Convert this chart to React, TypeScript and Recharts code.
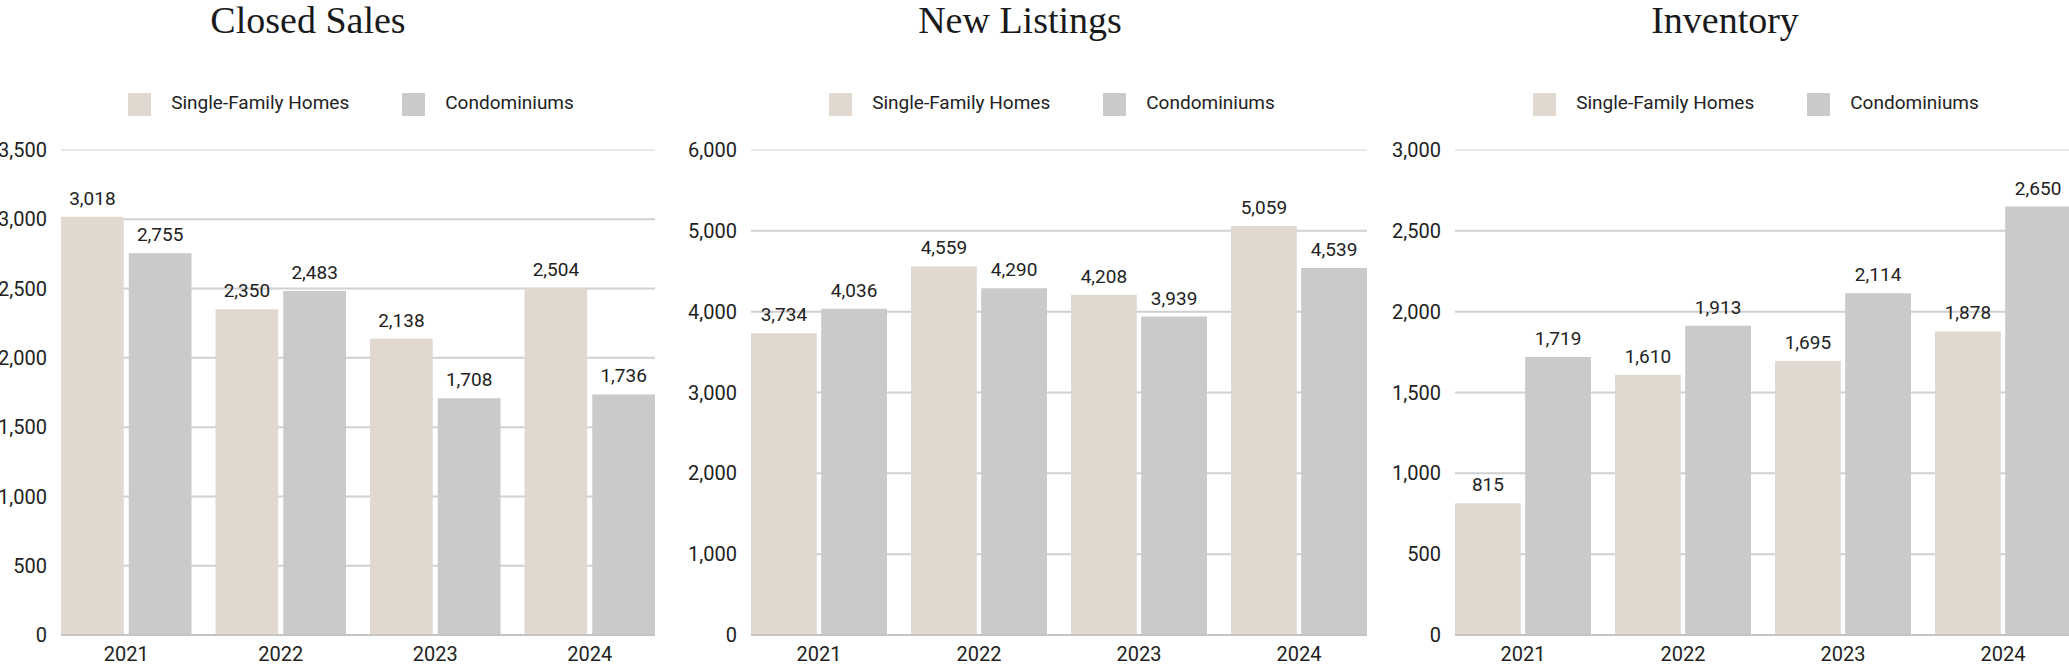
import React from 'react';
import { BarChart, Bar, XAxis, YAxis, CartesianGrid, LabelList, Legend, ReferenceLine } from 'recharts';

const years = ['2021', '2022', '2023', '2024'];
const seriesNames = ['Single-Family Homes', 'Condominiums'];
const titles = ['Closed Sales', 'New Listings', 'Inventory'];

const closedSalesSFH = [3018, 2350, 2138, 2504];
const closedSalesCondo = [2755, 2483, 1708, 1736];
const newListingsSFH = [3734, 4559, 4208, 5059];
const newListingsCondo = [4036, 4290, 3939, 4539];
const inventorySFH = [815, 1610, 1695, 1878];
const inventoryCondo = [1719, 1913, 2114, 2650];

const closedSalesTicks = [0, 500, 1000, 1500, 2000, 2500, 3000, 3500];
const newListingsTicks = [0, 1000, 2000, 3000, 4000, 5000, 6000];
const inventoryTicks = [0, 500, 1000, 1500, 2000, 2500, 3000];

const SFH_COLOR = '#e1d9d0';
const CONDO_COLOR = '#cacaca';
const TEXT = '#222222';
const FONT = 'Roboto, "Liberation Sans", sans-serif';
const YAXIS_W = 90;
const H = 665;

const fmt = (v: any) => Number(v).toLocaleString('en-US');

const build = (a: number[], b: number[]) => years.map((y, i) => ({ year: y, sfh: a[i], condo: b[i] }));

const panels = [
  { title: titles[0], data: build(closedSalesSFH, closedSalesCondo), ticks: closedSalesTicks, plotLeft: 61, plotWidth: 594, barSize: 62.75, barGap: 5, titleCenter: 308 },
  { title: titles[1], data: build(newListingsSFH, newListingsCondo), ticks: newListingsTicks, plotLeft: 751, plotWidth: 616, barSize: 65.8, barGap: 4.4, titleCenter: 1020 },
  { title: titles[2], data: build(inventorySFH, inventoryCondo), ticks: inventoryTicks, plotLeft: 1455, plotWidth: 616, barSize: 65.8, barGap: 4.4, titleCenter: 1725 },
];

const renderLegend = (props: any) => {
  const items = [...(props.payload || [])].sort(
    (a: any, b: any) => seriesNames.indexOf(a.value) - seriesNames.indexOf(b.value)
  );
  return (
    <div style={{ display: 'flex', justifyContent: 'center', paddingRight: 14 }}>
      {items.map((e: any, i: number) => (
        <div key={i} style={{ display: 'flex', alignItems: 'center', marginLeft: i ? 53 : 0 }}>
          <span style={{ width: 23, height: 23, background: e.color, display: 'inline-block', marginRight: 20 }} />
          <span style={{ fontSize: 19, color: TEXT, fontFamily: FONT, lineHeight: '23px', position: 'relative', top: -2, whiteSpace: 'nowrap' }}>{e.value}</span>
        </div>
      ))}
    </div>
  );
};

function Panel({ p }: { p: any }) {
  const max = p.ticks[p.ticks.length - 1];
  return (
    <div style={{ position: 'absolute', left: p.plotLeft - YAXIS_W, top: 0 }}>
      <BarChart
        width={YAXIS_W + p.plotWidth}
        height={H}
        data={p.data}
        margin={{ top: 150, right: 0, bottom: 0, left: 0 }}
        barGap={p.barGap}
        barSize={p.barSize}
      >
        <CartesianGrid vertical={false} horizontalValues={p.ticks.slice(1, -1)} stroke="#d0d0d0" strokeWidth={2} />
        <ReferenceLine y={max} stroke="#e7e7e7" strokeWidth={2} />
        <XAxis
          dataKey="year"
          padding={{ left: -12, right: -12 }}
          tickLine={false}
          axisLine={{ stroke: '#c4c4c4', strokeWidth: 2 }}
          tickSize={0}
          tickMargin={12}
          interval={0}
          height={30}
          tick={{ fill: TEXT, fontSize: 20, fontFamily: FONT }}
        />
        <YAxis
          type="number"
          domain={[0, max]}
          ticks={p.ticks}
          interval={0}
          width={YAXIS_W}
          tickLine={false}
          axisLine={false}
          tickSize={0}
          tickMargin={14}
          tickFormatter={fmt}
          tick={{ fill: TEXT, fontSize: 20, fontFamily: FONT }}
        />
        <Legend
          layout="horizontal"
          verticalAlign="middle"
          align="center"
          itemSorter={null as any}
          content={renderLegend}
          wrapperStyle={{ top: 93, left: YAXIS_W, width: p.plotWidth, height: 24 }}
        />
        <Bar dataKey="sfh" name={seriesNames[0]} fill={SFH_COLOR} isAnimationActive={false}>
          <LabelList dataKey="sfh" position="top" offset={12} formatter={fmt} fill={TEXT} fontSize={19} fontFamily={FONT} />
        </Bar>
        <Bar dataKey="condo" name={seriesNames[1]} fill={CONDO_COLOR} isAnimationActive={false}>
          <LabelList dataKey="condo" position="top" offset={12} formatter={fmt} fill={TEXT} fontSize={19} fontFamily={FONT} />
        </Bar>
      </BarChart>
    </div>
  );
}

export default function App() {
  return (
    <div style={{ position: 'absolute', left: 0, top: 0, width: 2069, height: H, overflow: 'hidden', background: '#ffffff', fontFamily: FONT }}>
      {panels.map((p, i) => (
        <div
          key={'t' + i}
          style={{
            position: 'absolute',
            left: p.titleCenter - 300,
            width: 600,
            top: 1,
            textAlign: 'center',
            fontFamily: '"Liberation Serif", serif',
            fontSize: 38,
            lineHeight: '38px',
            color: '#1a1a1a',
            whiteSpace: 'nowrap',
          }}
        >
          {p.title}
        </div>
      ))}
      {panels.map((p, i) => (
        <Panel key={i} p={p} />
      ))}
    </div>
  );
}
